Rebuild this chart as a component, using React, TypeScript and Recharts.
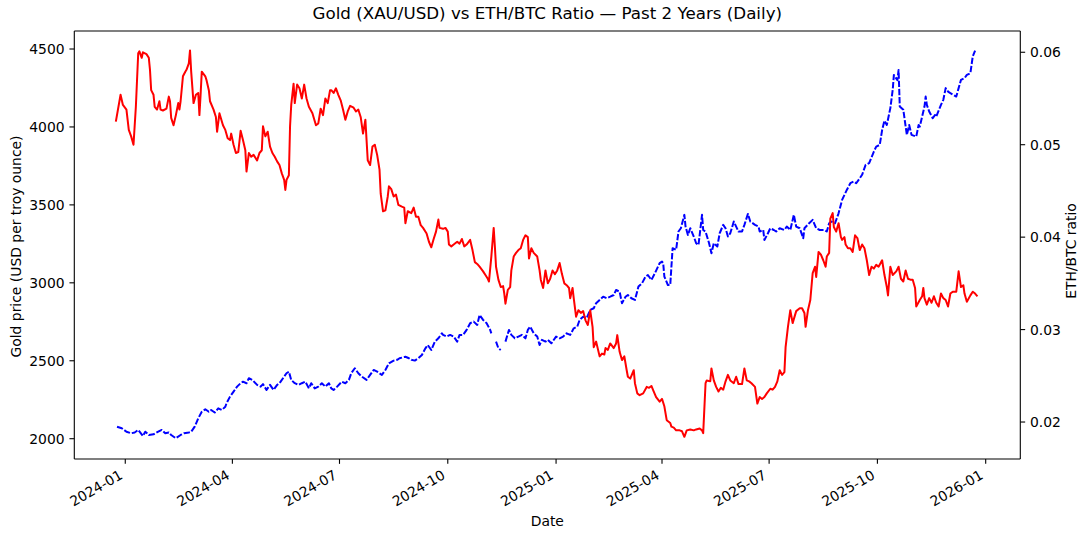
import { LineChart, Line, XAxis, YAxis, ReferenceLine } from 'recharts'

const FONT = '"DejaVu Sans", sans-serif'
const W = 1089
const H = 539

// days are counted from 2024-01-01
const monthTicks = [0, 91, 182, 274, 366, 456, 547, 639, 731]
const monthLabels = ['2024-01', '2024-04', '2024-07', '2024-10', '2025-01', '2025-04', '2025-07', '2025-10', '2026-01']
const goldTicks = [2000, 2500, 3000, 3500, 4000, 4500]
const ratioTicks = [0.02, 0.03, 0.04, 0.05, 0.06]

const GOLD_DOMAIN = [1869.8, 4615.5]
const ETH_DOMAIN = [0.016, 0.0623]
const DAY_DOMAIN = [-43.3, 760.4]

// gold, USD per troy ounce (null = no quote)
const goldDays = [
  -7, -3, 1, 5, 8, 11, 15, 17, 20, 24,
  28, 31, 34, 37, 39, 43, 47, 50, 54, 56,
  59, 62, 65, 68, 71, 73, 76, 79, 82, 85,
  86, 89, 92, 95, 98, 100, 103, 105, 108, 112,
  115, 117, 120, 123, 126, 129, 132, 134, 137, 139,
  141, 144, 147, 150, 153, 156, 158, 161, 164, 167,
  170, 173, 175,
  177, 180, 184, 187, 190, 192, 195, 198, 201, 205,
  208, 211, 214, 218, 221, 224, 228, 231, 233, 238,
  241, 243, 246, 249, 252, 255, 257, 260, 263, 266,
  269, 270, 273, 276, 279, 282, 284, 287, 290, 293,
  296, 299, 301, 304, 307, 310, 311, 313, 315, 317,
  319, 321, 323, 326, 328, 331, 334, 337, 340, 342,
  344, 347, 350, 352, 354, 357, 359, 362, 366,
  369, 372, 375, 378, 381, 384, 386, 389, 392, 395,
  398, 400, 403, 406, 409, 412, 415, 417, 420, 422,
  425, 427, 430, 433, 436, 439, 442, 444, 447, 450,
  452, 454, 456, 457, 458, 461, 463, 465, 468, 470,
  472, 475, 476, 478, 480, 483, 485, 487, 490, 491,
  493, 496, 498, 500, 503, 505, 508, 510, 512, 514,
  517, 519, 521, 524, 526, 529, 531, 535, 538, 539,
  542, 543, 546, 548, 551,
  553, 556, 560, 562, 565, 568, 570, 573, 576, 577,
  581, 584, 587, 590, 594, 596, 598, 600, 603, 606,
  609, 611, 613, 616, 619, 621, 624, 626, 629, 632,
  636, 638, 641, 643, 645, 647, 650, 652, 653, 656,
  657, 658, 661, 664, 666, 668, 672, 674, 675, 679,
  680, 681, 683, 686, 688, 689, 693, 695, 697, 699,
  701, 706, 708, 710, 713, 715, 718, 720, 722,
]
const goldPrice = [
  2077, 2067, 2045, 2035, 2040, 2056, 2017, 2045, 2024, 2028,
  2045, 2056, 2035, 2040, 2024, 2003, 2024, 2035, 2040, 2045,
  2077, 2131, 2173, 2189, 2173, 2184, 2168, 2195, 2184, 2205,
  2227, 2270, 2302, 2334, 2356, 2366, 2356, 2388, 2377, 2345,
  2334, 2350, 2313, 2345, 2313, 2345, 2366, 2388, 2420, 2430,
  2377, 2356, 2345, 2356, 2366, 2323, 2356, 2323, 2334, 2356,
  2334, 2356, 2323,
  2313, 2334, 2366, 2356, 2377, 2420, 2452, 2420, 2398, 2377,
  2409, 2441, 2430, 2409, 2441, 2484, 2501, 2506, 2516, 2526,
  2516, 2506, 2501, 2516, 2537, 2580, 2601, 2569, 2623, 2644,
  2676, 2666, 2655, 2666, 2655, 2623, 2666, 2666, 2698, 2741,
  2751, 2730, 2794, 2762, 2741, 2698, 2676, null, 2623, 2580,
  2569, null, 2623, 2698, 2666, 2644, 2655, 2666, 2644, 2698,
  2719, 2676, 2655, 2601, 2634, 2623, 2634, 2612, 2655,
  2644, 2655, 2676, 2666, 2708, 2719, 2762, 2783, 2773, 2826,
  2837, 2869, 2890, 2911, 2901, 2911, 2922, 2954, 2943, 2869,
  2911, 2922, 2901, 2890, 2976, 2997, 3040, 3050, 3018, 3062,
  3094, 3126, 3136, 3126, 3040, 2986, 2986, 3222, 3212, 3329,
  3350, 3436, 3361, 3307, 3350, 3297, 3254, 3243, 3436, 3339,
  3329, 3254, 3190, 3254, 3233, 3318, 3372, 3350, 3297, 3318,
  3393, 3361, 3329, 3329, 3372, 3442, 3393, 3372, 3361, 3329,
  3339, 3275, 3318, 3350, 3339,
  3329, 3350, 3339, 3361, 3339, 3436, 3361, 3350, 3286, 3350,
  3382, 3404, 3350, 3339, 3339, 3329, 3382, 3393, 3382, 3446,
  3532, 3564, 3596, 3639, 3650, 3639, 3671, 3693, 3757, 3768,
  3842, 3874, 3885, 3980, 4040, 4013, 4121, 4238, 4334, 4300,
  4366, 4131, 4110, 3949, 4013, 3949, 3938, 4013, 4002, 4131,
  4195, 4142, 4099, 4056, 4077, 4066, 4142, 4174, 4249, 4227,
  4217, 4195, 4249, 4302, 4313, 4334, 4345, 4452, 4490,
]

// ETH/BTC ratio
const ethDays = [
  -8, -4, -2, 1, 3, 5, 7, 9, 11, 12,
  14, 15, 18, 20, 21, 22, 24, 25, 27, 29,
  30, 32, 35, 37, 38, 39, 41, 43, 45, 46,
  47, 49, 51, 52, 54, 55, 56, 58, 60, 62,
  63, 64, 65, 68, 69, 71, 72, 75, 77, 78,
  80,
  83, 85, 87, 89, 90, 92, 94, 96, 98, 100,
  102, 103, 105, 107, 109, 112, 114, 116, 117, 119,
  121, 123, 125, 127, 129, 131, 133, 135, 136, 137,
  139, 140, 141, 143, 144, 146, 148, 150, 152, 154,
  156, 159, 162, 164, 166, 168, 170, 172, 174,
  175, 177, 179, 181, 183, 185, 187, 189, 191, 194,
  196, 198, 200, 202, 204, 205, 206, 208, 210, 212,
  214, 216, 217, 219, 221, 223, 224, 226, 228, 230,
  232, 235, 237, 238, 240, 243, 245, 247, 249, 251,
  253, 256, 258, 260, 262, 264, 266, 267,
  270, 272, 274, 275, 277, 279, 282, 284, 286, 288,
  290, 293, 295, 297, 299, 301, 304, 306, 308, 309,
  311, 313, 314, 315, 317, 319, 321, 322, 323, 325,
  327, 328, 330, 332, 334, 336, 338, 340, 342, 343,
  345, 347, 350, 352, 353, 355, 357, 359, 361,
  363, 365, 367, 369, 371, 373, 375, 377, 378, 380,
  381, 383, 385, 387, 389, 391, 393, 395, 397, 398,
  400, 403, 405, 407, 408, 410, 412, 415, 417, 418,
  420, 422, 424, 426, 427, 429, 432, 433, 435, 437,
  440, 443, 445, 447, 449, 451, 454,
  456, 458, 460, 463, 464, 466, 468, 471, 473, 475,
  477, 480, 483, 485, 488, 490, 491, 493, 494, 497,
  498, 500, 502, 504, 506, 508, 510, 512, 514, 517,
  519, 521, 524, 526, 528, 530, 532, 535, 537, 539,
  541, 543, 545, 548, 550,
  552, 554, 556, 558, 560, 561, 563, 565, 567, 570,
  573, 575, 577, 578, 580, 582, 584, 586, 587, 589,
  591, 593, 595, 596, 598, 599, 601, 602, 604, 606,
  608, 609, 611, 612, 614, 616, 618, 620, 622, 624,
  626, 628, 630, 632, 634, 636, 638, 640,
  643, 645, 647, 648, 650, 652, 655, 657, 659, 661,
  663, 665, 667, 669, 671, 672, 675, 677, 678, 679,
  681, 683, 685, 687, 689, 691, 693, 695, 697, 699,
  701, 703, 706, 708, 710, 712, 713, 715, 718, 720,
  722, 724,
]
const ethRatio = [
  0.0525, 0.0554, 0.0543, 0.0538, 0.0516, 0.0509, 0.05, 0.0541, 0.0599, 0.0601,
  0.0594, 0.06, 0.0598, 0.0594, 0.0581, 0.0559, 0.0554, 0.0541, 0.0538, 0.0547,
  0.0538, 0.0537, 0.0539, 0.0552, 0.0547, 0.0529, 0.0521, 0.0532, 0.0545, 0.0538,
  0.0547, 0.0574, 0.0579, 0.0581, 0.0588, 0.0602, 0.0579, 0.0545, 0.0554, 0.0556,
  0.0532, 0.0554, 0.0579, 0.0574, 0.057, 0.0559, 0.0547, 0.0538, 0.053, 0.0514,
  0.0534,
  0.0521, 0.0516, 0.0507, 0.0505, 0.0512, 0.05, 0.0491, 0.0492, 0.0515, 0.0505,
  0.0494, 0.0471, 0.0491, 0.0487, 0.0489, 0.0483, 0.0491, 0.0494, 0.052, 0.0509,
  0.0514, 0.0498, 0.0491, 0.0487, 0.0482, 0.0478, 0.0469, 0.0462, 0.0451, 0.0462,
  0.0467, 0.052, 0.0543, 0.0566, 0.0545, 0.0565, 0.0561, 0.055, 0.0565, 0.055,
  0.0541, 0.0534, 0.0521, 0.0523, 0.0539, 0.0532, 0.055, 0.0545, 0.0559,
  0.0559, 0.0556, 0.0561, 0.0554, 0.0548, 0.0538, 0.0527, 0.0536, 0.0542, 0.054,
  0.0536, 0.0538, 0.053, 0.0512, 0.0527, 0.0505, 0.0483, 0.0478, 0.0498, 0.05,
  0.0489, 0.0473, 0.0447, 0.0428, 0.0429, 0.0444, 0.0455, 0.0452, 0.0444, 0.0446,
  0.0435, 0.0433, 0.0432, 0.0415, 0.0428, 0.0426, 0.0432, 0.0422, 0.0422, 0.0413,
  0.041, 0.0404, 0.0395, 0.0389, 0.0398, 0.0406, 0.0419, 0.041,
  0.0409, 0.041, 0.0406, 0.0392, 0.039, 0.0392, 0.0395, 0.0393, 0.0398, 0.039,
  0.0392, 0.0397, 0.0386, 0.0373, 0.0371, 0.0368, 0.0363, 0.0359, 0.0355, 0.0352,
  0.0379, 0.041, 0.039, 0.0368, 0.0354, 0.0346, 0.0347, 0.0339, 0.0328, 0.0343,
  0.0346, 0.0364, 0.0379, 0.0383, 0.0386, 0.0388, 0.0397, 0.0402, 0.04, 0.0377,
  0.0388, 0.0383, 0.0379, 0.0364, 0.0354, 0.0345, 0.0364, 0.035, 0.0355,
  0.0364, 0.036, 0.0364, 0.0372, 0.036, 0.035, 0.0348, 0.0345, 0.0334, 0.0345,
  0.0334, 0.0314, 0.0321, 0.0318, 0.032, 0.031, 0.0305, 0.0321, 0.0303, 0.0281,
  0.0287, 0.0271, 0.0274, 0.0273, 0.028, 0.0278, 0.0285, 0.028, 0.0285, 0.0294,
  0.0276, 0.0267, 0.0271, 0.0256, 0.0249, 0.0247, 0.0256, 0.0242, 0.0231, 0.0229,
  0.0231, 0.0238, 0.0237, 0.0239, 0.0233, 0.0227, 0.0222,
  0.0225, 0.0217, 0.0202, 0.0199, 0.0195, 0.0194, 0.0191, 0.0191, 0.019, 0.0184,
  0.0191, 0.0192, 0.0191, 0.0192, 0.0193, 0.0191, 0.0188, 0.0242, 0.0245, 0.0244,
  0.0258, 0.0245, 0.0238, 0.0233, 0.0237, 0.0235, 0.0244, 0.0251, 0.0245, 0.0242,
  0.0249, 0.0241, 0.0241, 0.0258, 0.0245, 0.0244, 0.0242, 0.0238, 0.022, 0.0227,
  0.0225, 0.0227, 0.0231, 0.0236, 0.0235,
  0.0238, 0.0244, 0.0256, 0.0251, 0.0254, 0.0281, 0.0303, 0.0321, 0.0307, 0.032,
  0.0323, 0.0323, 0.0318, 0.0303, 0.0321, 0.0332, 0.0361, 0.0368, 0.0357, 0.0384,
  0.0381, 0.0375, 0.0368, 0.0379, 0.0383, 0.042, 0.0426, 0.0411, 0.0406, 0.0415,
  0.04, 0.0397, 0.04, 0.0392, 0.0388, 0.0388, 0.0384, 0.0402, 0.0399, 0.0386,
  0.0392, 0.0388, 0.0375, 0.0359, 0.0368, 0.0366, 0.037, 0.0368,
  0.0375, 0.0359, 0.0346, 0.0337, 0.0368, 0.0359, 0.0363, 0.0368, 0.0355, 0.0352,
  0.0364, 0.0355, 0.0354, 0.0354, 0.0345, 0.0325, 0.0332, 0.0336, 0.0345, 0.0334,
  0.0327, 0.0334, 0.0329, 0.0336, 0.0329, 0.0325, 0.0339, 0.0334, 0.0332, 0.0325,
  0.0339, 0.0341, 0.0341, 0.0363, 0.0346, 0.0348, 0.0339, 0.033, 0.0337, 0.0341,
  0.0339, 0.0336,
]

const goldSeries = goldDays.map((day, i) => ({ day, price: goldPrice[i] }))
const ethSeries = ethDays.map((day, i) => ({ day, ratio: ethRatio[i] }))

const spine = { stroke: '#000', strokeWidth: 1.1 }
const tickFont = { fontSize: 13.9, fontFamily: FONT, fill: '#000' }

const DateTick = (props: any) => {
  const { x, y, payload } = props
  const label = monthLabels[monthTicks.indexOf(payload.value)]
  const ax = x - 1.6
  const ay = y + 9.1
  return (
    <text x={ax} y={ay} textAnchor="end" transform={`rotate(-30 ${ax} ${ay})`} {...tickFont}>
      {label}
    </text>
  )
}

export default function App() {
  return (
    <div style={{ position: 'fixed', left: 0, top: 0, width: W, height: H, background: '#fff' }}>
      <LineChart width={W} height={H} margin={{ top: 31, right: 0, bottom: 0, left: 0 }}>
        <XAxis
          xAxisId="bottom"
          dataKey="day"
          type="number"
          domain={DAY_DOMAIN}
          allowDataOverflow
          ticks={monthTicks}
          interval={0}
          height={80}
          tickSize={4.86}
          tickMargin={4.86}
          axisLine={spine}
          tickLine={spine}
          tick={(p: any) => <DateTick {...p} />}
        />
        <YAxis
          yAxisId="gold"
          orientation="left"
          width={74.3}
          domain={GOLD_DOMAIN}
          allowDataOverflow
          ticks={goldTicks}
          interval={0}
          tickSize={4.86}
          tickMargin={4.86}
          axisLine={spine}
          tickLine={spine}
          tick={tickFont}
        />
        <YAxis
          yAxisId="eth"
          orientation="right"
          width={68.7}
          domain={ETH_DOMAIN}
          allowDataOverflow
          ticks={ratioTicks}
          interval={0}
          tickFormatter={(v: number) => v.toFixed(2)}
          tickSize={4.86}
          tickMargin={4.86}
          axisLine={spine}
          tickLine={spine}
          tick={tickFont}
        />
        {/* top spine of the axes box */}
        <ReferenceLine xAxisId="bottom" yAxisId="gold" y={GOLD_DOMAIN[1]} stroke="#000" strokeWidth={1.1} />
        <Line
          data={goldSeries}
          xAxisId="bottom"
          yAxisId="gold"
          dataKey="price"
          type="linear"
          stroke="#0000ff"
          strokeWidth={2}
          strokeDasharray="6.3 1.9"
          strokeLinejoin="round"
          dot={false}
          activeDot={false}
          connectNulls={false}
          isAnimationActive={false}
        />
        <Line
          data={ethSeries}
          xAxisId="bottom"
          yAxisId="eth"
          dataKey="ratio"
          type="linear"
          stroke="#ff0000"
          strokeWidth={2}
          strokeLinejoin="round"
          dot={false}
          activeDot={false}
          isAnimationActive={false}
        />
      </LineChart>
      <svg width={W} height={H} style={{ position: 'absolute', left: 0, top: 0, pointerEvents: 'none' }}>
        <text x={547.3} y={18.7} textAnchor="middle" fontSize={16.7} fontFamily={FONT} fill="#000">
          Gold (XAU/USD) vs ETH/BTC Ratio — Past 2 Years (Daily)
        </text>
        <text x={547.3} y={526} textAnchor="middle" {...tickFont}>
          Date
        </text>
        <text transform="translate(20.5 246.5) rotate(-90)" textAnchor="middle" {...tickFont}>
          Gold price (USD per troy ounce)
        </text>
        <text transform="translate(1076 251) rotate(-90)" textAnchor="middle" {...tickFont}>
          ETH/BTC ratio
        </text>
      </svg>
    </div>
  )
}
